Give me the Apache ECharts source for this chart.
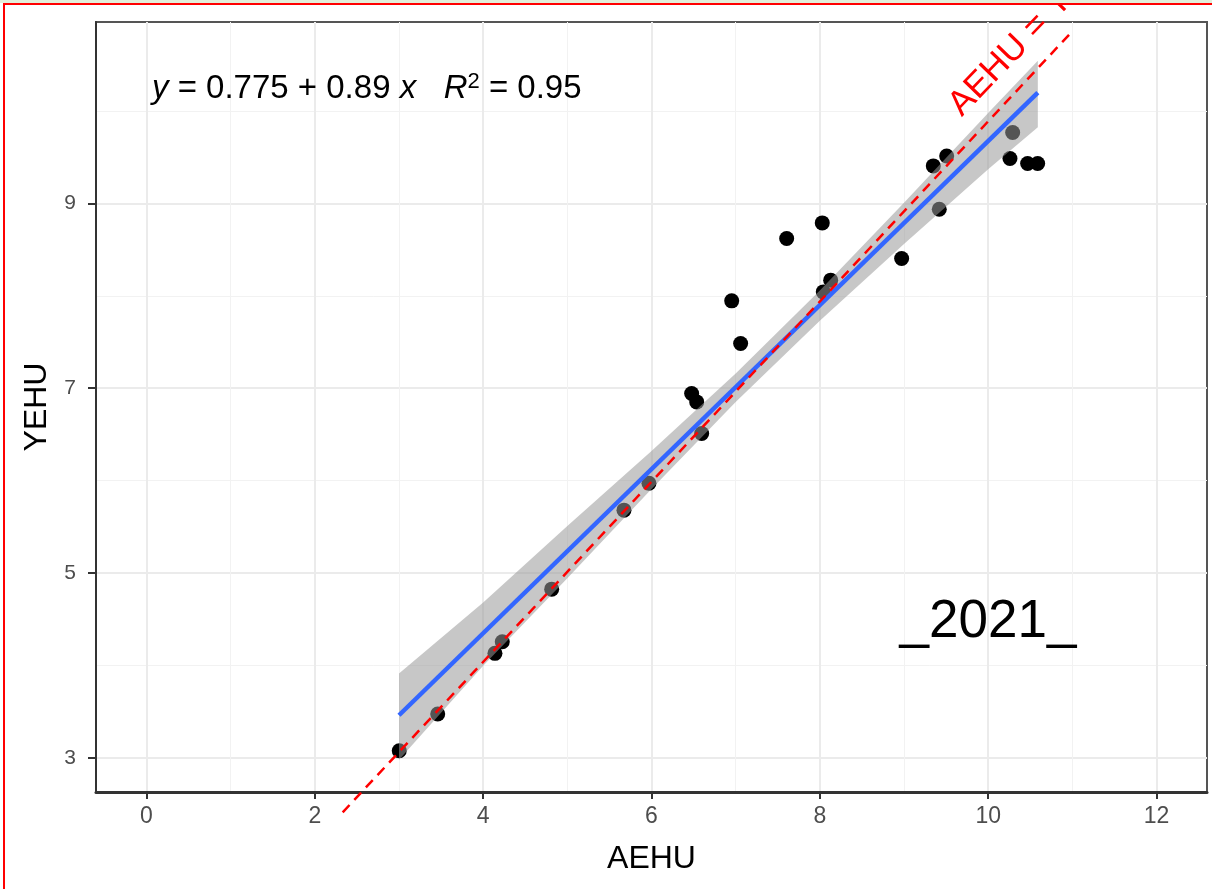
<!DOCTYPE html>
<html>
<head>
<meta charset="utf-8">
<script src="https://cdn.jsdelivr.net/npm/echarts@6/dist/echarts.min.js"></script>
<style>
html, body { margin: 0; padding: 0; background: #fff; }
#main { width: 1212px; height: 889px; }
</style>
</head>
<body>
<div id="main"></div>
<script>
// points
var aehu = [3.003, 3.460, 4.140, 4.227, 4.814, 5.673, 5.970, 6.477, 6.537, 6.596, 6.953, 7.059,
            7.606, 8.029, 8.129, 8.041, 8.972, 9.348, 9.507, 9.419, 10.291, 10.259, 10.469, 10.588];
var yehu = [3.075, 3.473, 4.130, 4.255, 4.825, 5.680, 5.972, 6.943, 6.852, 6.510, 7.946, 7.484,
            8.621, 8.790, 8.170, 8.043, 8.404, 9.407, 9.515, 8.938, 9.768, 9.487, 9.433, 9.433];

// ticks
var xTicks = [0, 2, 4, 6, 8, 10, 12];
var xMinor = [1, 3, 5, 7, 9, 11];
var yTicks = [3, 5, 7, 9];
var yMinor = [4, 6, 8, 10];

// fit line + band
var fitX = [3.0, 10.59];
var fitY = [3.46, 10.20];
var bandX = [3, 4, 5, 6, 7, 8, 9, 10, 10.59];
var bandHigh = [3.913, 4.680, 5.508, 6.320, 7.160, 8.058, 9.008, 9.980, 10.545];
var bandLow = [2.977, 3.995, 4.942, 5.910, 6.850, 7.732, 8.562, 9.370, 9.825];

// dashed reference line
var refX = [2.331, 10.999];
var refY = [2.409, 10.864];

var FONT = '"Liberation Sans", Arial, sans-serif';

var chart = echarts.init(document.getElementById('main'));
chart.setOption({
    animation: false,
    backgroundColor: '#fff',
    grid: {
        left: 96, top: 22, right: 5, bottom: 97,
        show: true, borderColor: '#555', borderWidth: 2
    },
    xAxis: [{
        type: 'value', min: -0.6, max: 12.6,
        name: 'AEHU', nameLocation: 'middle', nameGap: 51,
        nameTextStyle: { fontSize: 32, color: '#000', fontFamily: FONT },
        axisLine: { show: true, onZero: false, lineStyle: { color: '#333', width: 3 } },
        axisTick: { show: true, length: 7, customValues: xTicks, lineStyle: { color: '#333', width: 2 } },
        axisLabel: { customValues: xTicks, fontSize: 23, color: '#4d4d4d', margin: 13, fontFamily: FONT },
        splitLine: { show: true, lineStyle: { color: '#ebebeb', width: 2 } }
    }, {
        type: 'value', min: -0.6, max: 12.6, position: 'bottom',
        axisLine: { show: false },
        axisTick: { show: false, customValues: xMinor },
        axisLabel: { show: false },
        splitLine: { show: true, lineStyle: { color: '#f2f2f2', width: 1 } }
    }],
    yAxis: [{
        type: 'value', min: 2.629, max: 10.965,
        name: 'YEHU', nameLocation: 'middle', nameGap: 42, nameRotate: 90,
        nameTextStyle: { fontSize: 32, color: '#000', fontFamily: FONT },
        axisLine: { show: true, onZero: false, lineStyle: { color: '#333', width: 2 } },
        axisTick: { show: true, length: 8, customValues: yTicks, lineStyle: { color: '#333', width: 2 } },
        axisLabel: { customValues: yTicks, fontSize: 21, color: '#4d4d4d', margin: 20, fontFamily: FONT },
        splitLine: { show: true, lineStyle: { color: '#ebebeb', width: 2 } }
    }, {
        type: 'value', min: 2.629, max: 10.965, position: 'left',
        axisLine: { show: false },
        axisTick: { show: false, customValues: yMinor },
        axisLabel: { show: false },
        splitLine: { show: true, lineStyle: { color: '#f2f2f2', width: 1 } }
    }],
    series: [{
        type: 'scatter',
        symbolSize: 15,
        itemStyle: { color: '#000', opacity: 1 },
        z: 2,
        data: aehu.map(function (v, i) { return [v, yehu[i]]; })
    }, {
        type: 'custom',
        z: 3,
        silent: true,
        renderItem: function (params, api) {
            var pts = [];
            for (var i = 0; i < bandX.length; i++) pts.push(api.coord([bandX[i], bandHigh[i]]));
            for (var j = bandX.length - 1; j >= 0; j--) pts.push(api.coord([bandX[j], bandLow[j]]));
            return { type: 'polygon', shape: { points: pts }, style: { fill: 'rgba(153,153,153,0.55)' } };
        },
        data: [[bandX[0], bandLow[0]]]
    }, {
        type: 'line',
        z: 4,
        showSymbol: false,
        silent: true,
        lineStyle: { color: '#3366ff', width: 4.5 },
        data: fitX.map(function (v, i) { return [v, fitY[i]]; })
    }, {
        type: 'line',
        z: 5,
        showSymbol: false,
        silent: true,
        clip: false,
        lineStyle: { color: '#ff0000', width: 2.5, type: [10, 7] },
        data: refX.map(function (v, i) { return [v, refY[i]]; })
    }, {
        type: 'scatter',
        z: 6,
        symbolSize: 0,
        clip: false,
        silent: true,
        itemStyle: { opacity: 1 },
        data: [{
            value: [0.065, 10.237],
            label: {
                show: true, position: 'right', distance: 0,
                formatter: '{i|y} = 0.775 + 0.89 {i|x}   {i|R}{s|2} = 0.95',
                fontSize: 33, color: '#000', fontFamily: FONT,
                rich: {
                    i: { fontStyle: 'italic', fontSize: 33, color: '#000', fontFamily: FONT },
                    s: { fontSize: 22, color: '#000', verticalAlign: 'top', padding: [0, 0, 14, 0], fontFamily: FONT }
                }
            }
        }, {
            value: [9.998, 4.468],
            label: { show: true, position: 'inside', formatter: '_2021_', fontSize: 53, color: '#000', fontFamily: FONT }
        }, {
            value: [10.57, 10.92],
            label: { show: true, position: 'inside', rotate: 46, formatter: 'AEHU = YEHU', fontSize: 35, color: '#ff0000', fontFamily: FONT }
        }]
    }],
    graphic: [{
        type: 'rect', z: 100, silent: true,
        shape: { x: 0, y: 0, width: 1212, height: 3 },
        style: { fill: '#e2efda' }
    }, {
        type: 'rect', z: 100, silent: true,
        shape: { x: 4, y: 4, width: 1220, height: 900 },
        style: { fill: 'transparent', stroke: '#ff0000', lineWidth: 2 }
    }]
});
</script>
</body>
</html>
